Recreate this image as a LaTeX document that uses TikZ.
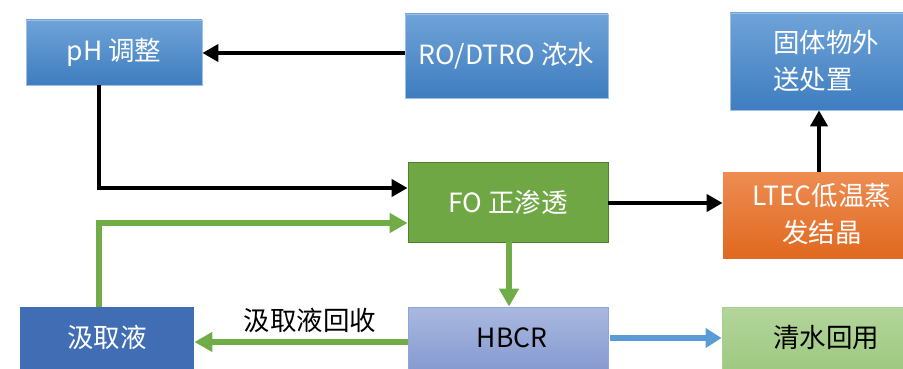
\documentclass[tikz,border=0pt]{standalone}
\usepackage{fontspec}
\setmainfont{Noto Sans CJK SC}
\usetikzlibrary{arrows.meta}
\definecolor{bluetop}{HTML}{6FA3D8}
\definecolor{bluebot}{HTML}{3E7DBF}
\definecolor{blueedge}{HTML}{9DC0E6}
\definecolor{fogreen}{HTML}{6FA745}
\definecolor{fogreenedge}{HTML}{4F7F30}
\definecolor{orangetop}{HTML}{EE8C52}
\definecolor{orangebot}{HTML}{E0691F}
\definecolor{drawblue}{HTML}{416DB5}
\definecolor{lavtop}{HTML}{A9B9E0}
\definecolor{lavbot}{HTML}{8396CE}
\definecolor{lavedge}{HTML}{8FA4D8}
\definecolor{ltgtop}{HTML}{B3D59B}
\definecolor{ltgbot}{HTML}{9CC87E}
\definecolor{ltgedge}{HTML}{A9CF8E}
\definecolor{arrgreen}{HTML}{70AD47}
\definecolor{arrblue}{HTML}{5B9BD5}
\tikzset{
  txt/.style={font=\fontsize{26.5}{37}\selectfont, inner sep=0pt},
  box/.style={minimum width=#1, inner sep=0pt, txt, text=white, line width=0.8pt},
  bluebox/.style={box=#1, top color=bluetop, bottom color=bluebot, draw=blueedge},
  blk/.style={line width=4pt, -{Triangle[length=16pt,width=17pt]}},
  grn/.style={draw=arrgreen, line width=5.5pt, -{Triangle[length=18pt,width=19pt]}},
  blu/.style={draw=arrblue, line width=6pt, -{Triangle[length=16pt,width=19pt]}},
}
\begin{document}
\begin{tikzpicture}[x=1pt,y=-1pt]
\useasboundingbox (0,0) rectangle (903,369);
\begin{scope}
\clip (0,0) rectangle (903,369);
\node[bluebox=176pt, minimum height=65pt] (ph) at (114,52.5) {pH 调整};
\node[bluebox=203pt, minimum height=84pt] (ro) at (506.5,56) {RO/DTRO 浓水};
\node[box=200pt, minimum height=80pt, fill=fogreen, draw=fogreenedge] (fo) at (508,202) {FO 正渗透};
\node[bluebox=176pt, minimum height=97pt] (solid) at (818,61.5) {};
\node[txt, text=white, align=left] (solidtxt) at (826,61) {固体物外\\送处置};
\node[box=200pt, minimum height=86pt, top color=orangetop, bottom color=orangebot] (ltec) at (823,215) {};
\node[txt, text=white, align=center] (ltectxt) at (822,214) {LTEC低温蒸\\发结晶};
\node[box=174pt, minimum height=70pt, fill=drawblue] (draw) at (107,342) {};
\node[txt, text=white] (drawtxt) at (107,337) {汲取液};
\node[box=200pt, minimum height=70pt, top color=lavtop, bottom color=lavbot, draw=lavedge] (hbcr) at (508,342) {};
\node[txt, text=black] (hbcrtxt) at (512,338) {HBCR};
\node[box=190pt, minimum height=70pt, top color=ltgtop, bottom color=ltgbot, draw=ltgedge] (clean) at (817,342) {};
\node[txt, text=black] (cleantxt) at (826,337) {清水回用};
\end{scope}
\node[txt, text=black] (lbl) at (310,320) {汲取液回收};
% connectors
\draw[blk] (ro.west |- 0,53) coordinate (a1) -- (ph.east |- a1);
\draw[blk] (99,85) coordinate (a2) |- (fo.west |- 0,188);
\draw[blk] (fo.east |- 0,203) coordinate (a3) -- (ltec.west |- a3);
\draw[blk] (819,172) coordinate (a4) -- (solid.south -| a4);
\draw[grn] (99,307) coordinate (a5) |- (fo.west |- 0,223);
\draw[grn] (509,242) coordinate (a6) -- (hbcr.north -| a6);
\draw[grn] (hbcr.west |- 0,342) coordinate (a7) -- (draw.east |- a7);
\draw[blu] (610,338) coordinate (a8) -- (clean.west |- a8);
\end{tikzpicture}
\end{document}
